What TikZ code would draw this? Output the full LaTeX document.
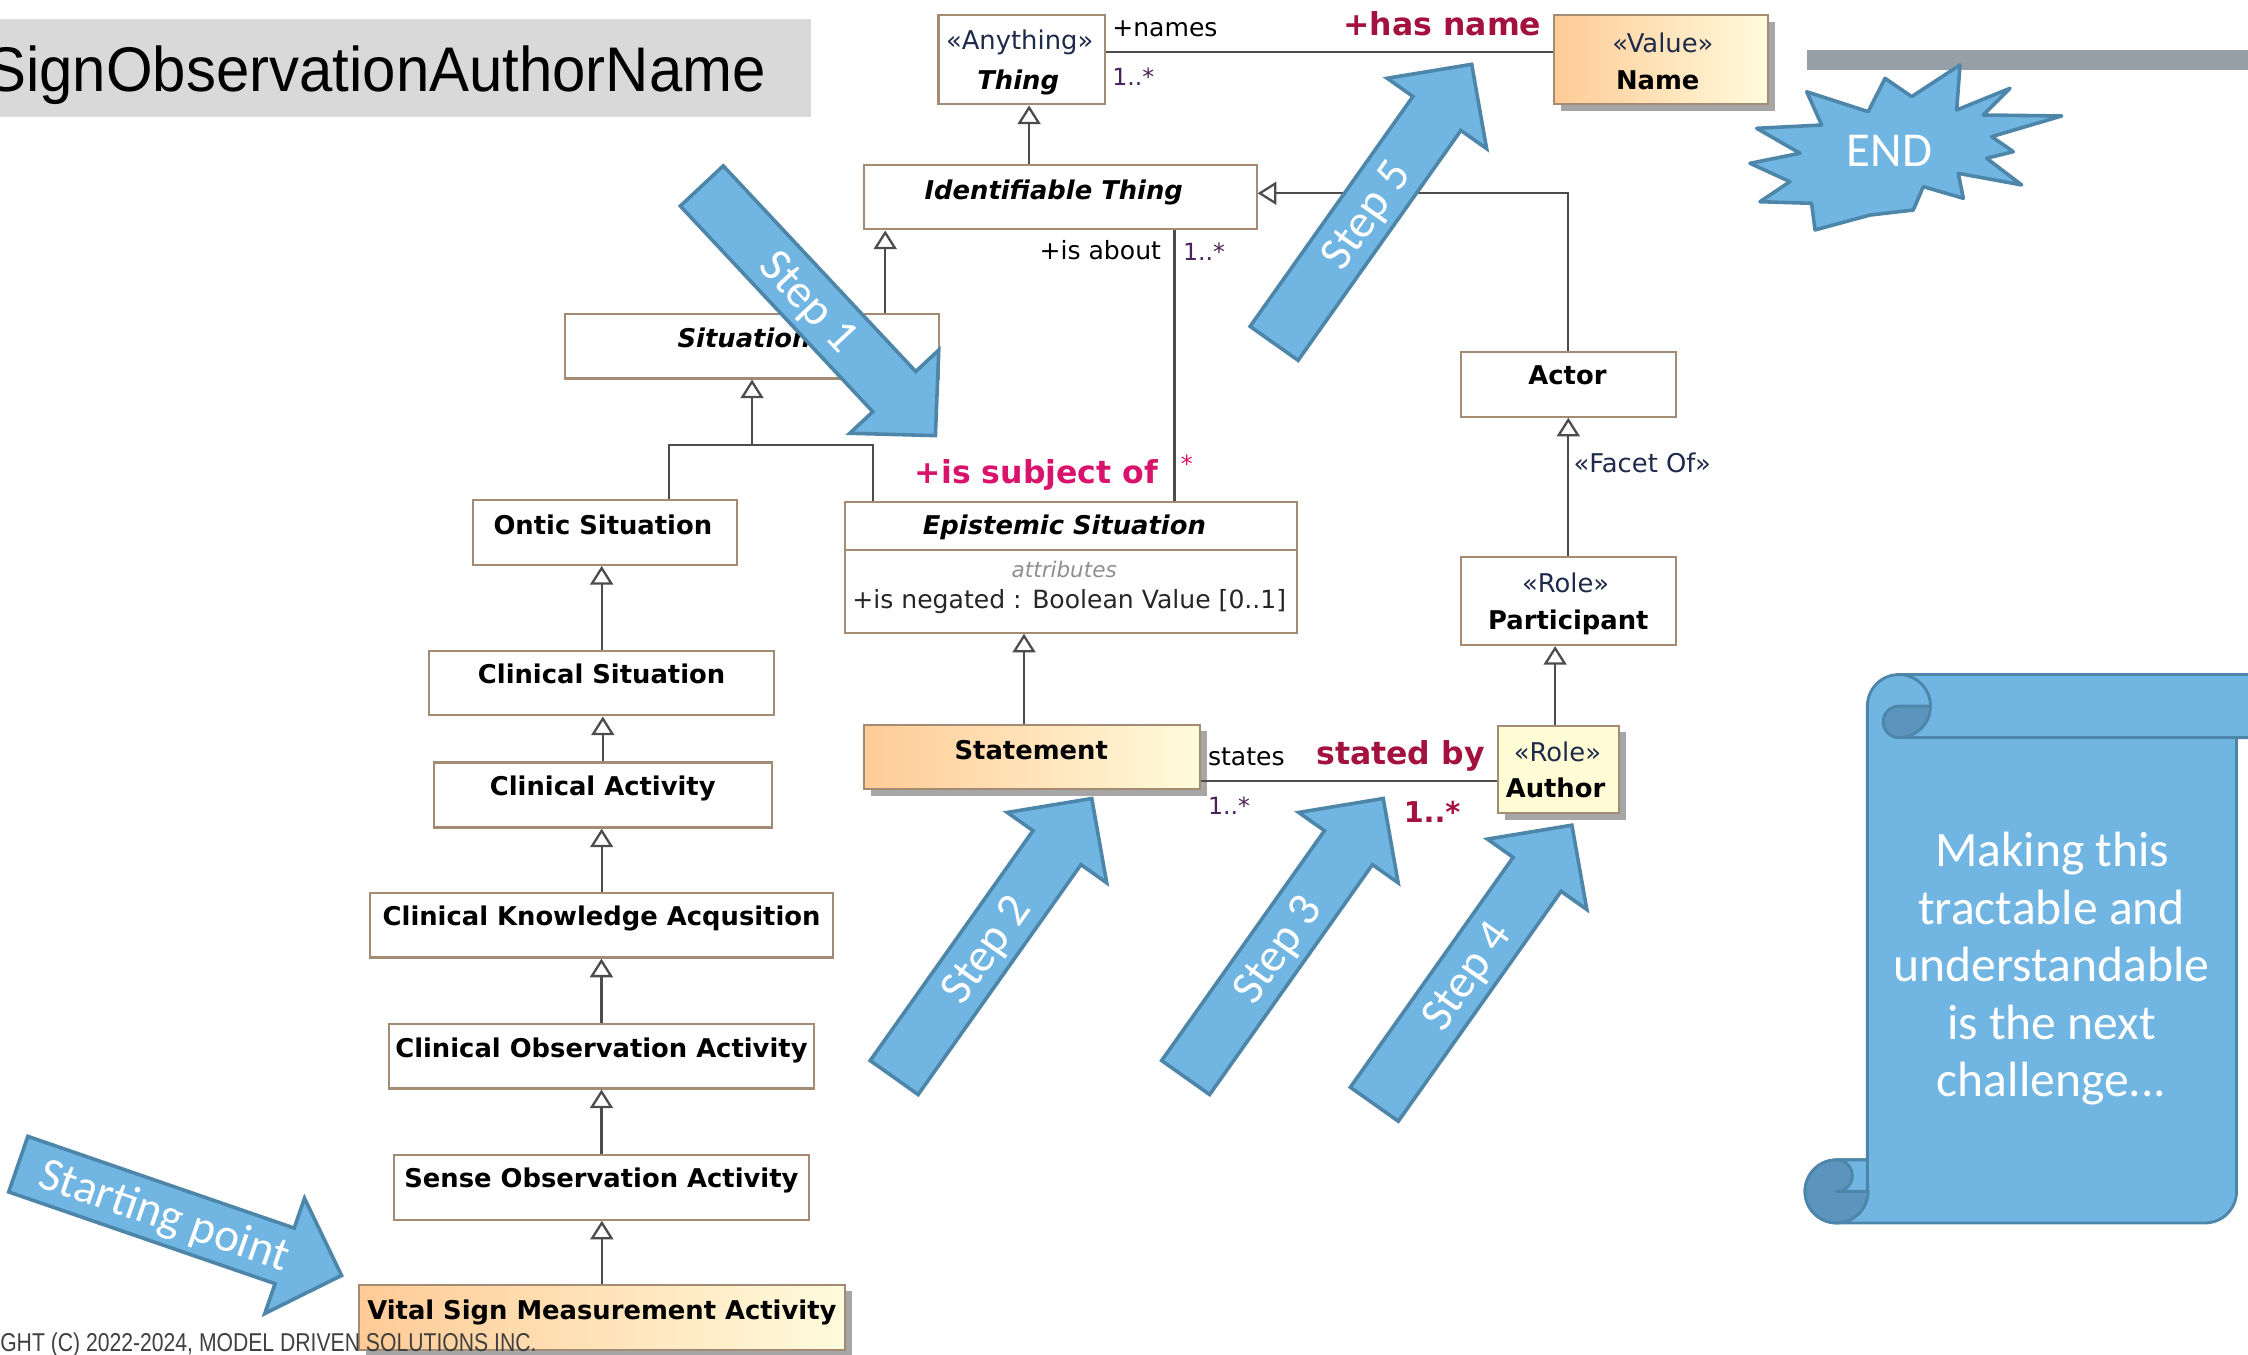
\documentclass[tikz,border=0pt]{standalone}
\usepackage{fontspec}
\setmainfont{DejaVu Sans}
\newfontfamily\calfont{Carlito}
\newfontfamily\headfont[FakeStretch=0.95]{Liberation Sans}
\newfontfamily\footfont[FakeStretch=0.82]{Liberation Sans}
\usetikzlibrary{arrows.meta,shadows}

\definecolor{boxline}{HTML}{A48B74}
\definecolor{linecol}{HTML}{4C4C4C}
\definecolor{valL}{HTML}{FFCB96}
\definecolor{valR}{HTML}{FFFBDC}
\definecolor{roleY}{HTML}{FFFCD6}
\definecolor{shadowgray}{HTML}{A6A6A6}
\definecolor{crimson}{HTML}{A3123F}
\definecolor{pinkred}{HTML}{D9126B}
\definecolor{multcol}{HTML}{4A235A}
\definecolor{stereocol}{HTML}{1E2A4A}
\definecolor{attrgray}{HTML}{8F8F8F}
\definecolor{calloutfill}{HTML}{71B5E2}
\definecolor{calloutdark}{HTML}{5B94BC}
\definecolor{calloutline}{HTML}{4E86AA}
\definecolor{titlegray}{HTML}{D9D9D9}
\definecolor{bargray}{HTML}{969EA8}
\definecolor{footgray}{HTML}{404040}

% block arrow: name, tail centre, angle, label, label position along the shaft
\newcommand\bluearrow[5]{%
  \begin{scope}[shift={#2}, rotate=#3]
    \draw[callout] (0,-20.5) -- (196.5,-20.5) -- (196.5,-42.5) -- (238.5,0)
      -- (196.5,42.5) -- (196.5,20.5) -- (0,20.5) -- cycle;
    \node[steptext, rotate=#3] (#1) at (#5,0) {#4};
  \end{scope}}

\begin{document}
\begin{tikzpicture}[x=1pt, y=-1pt,
  umlbox/.style={draw=boxline, line width=1.5pt, fill=white, inner sep=0pt},
  valbox/.style={draw=boxline, line width=1.5pt, inner sep=0pt, left color=valL, right color=valR,
    drop shadow={shadow xshift=5pt, shadow yshift=-4.5pt, fill=shadowgray, opacity=1}},
  rolebox/.style={draw=boxline, line width=1.5pt, inner sep=0pt, fill=roleY,
    drop shadow={shadow xshift=5pt, shadow yshift=-4.5pt, fill=shadowgray, opacity=1}},
  boxtitle/.style={inner sep=0pt, text height=13pt, text depth=0pt, font=\fontsize{18}{21}\selectfont\bfseries},
  boxtitleit/.style={boxtitle, font=\fontsize{18}{21}\selectfont\bfseries\itshape},
  stereo/.style={inner sep=0pt, text height=13pt, text depth=0pt, text=stereocol, font=\fontsize{18}{21}\selectfont},
  lbl/.style={inner sep=0pt, text height=12.5pt, text depth=0pt, font=\fontsize{17.5}{20}\selectfont},
  mult/.style={inner sep=0pt, text height=11.5pt, text depth=0pt, text=multcol, font=\fontsize{16.5}{19}\selectfont},
  rolename/.style={inner sep=0pt, text height=16pt, text depth=0pt, font=\fontsize{22}{26}\selectfont\bfseries},
  gen/.style={draw=linecol, line width=1.6pt, -{Triangle[open, length=13pt, width=16pt]}},
  assoc/.style={draw=linecol, line width=1.6pt},
  callout/.style={fill=calloutfill, draw=calloutline, line width=2.5pt, line join=miter},
  steptext/.style={text=white, inner sep=0pt, text height=21pt, text depth=0pt, font=\calfont\fontsize{33}{36}\selectfont},
  scrolltext/.style={text=white, inner sep=0pt, anchor=base, font=\calfont\fontsize{34.6}{40}\selectfont}
]
\useasboundingbox (0,0) rectangle (1568,945);
\fill[white] (0,0) rectangle (1568,945);

% heading
\fill[titlegray] (0,13.3) rectangle (566,81.4);
\node[anchor=base east, inner sep=0pt, font=\headfont\fontsize{44}{50}\selectfont] (title) at (534.4,64) {SignObservationAuthorName};
\fill[bargray] (1260.4,35) rectangle (1568,49);

% ---------- classes ----------
\node[umlbox, minimum width=116.1, minimum height=62.3] (thing) at (712.65,41.65) {};
\node[stereo] (thingSt) at (711.2,27.9) {«Anything»};
\node[boxtitleit] (thingNm) at (710.2,55.8) {Thing};

\node[valbox, minimum width=149, minimum height=62.3] (name) at (1158.5,41.65) {};
\node[stereo] (nameSt) at (1159.9,30.2) {«Value»};
\node[boxtitle] (nameNm) at (1156.3,55.8) {Name};

\node[umlbox, minimum width=274, minimum height=45] (it) at (739.5,137.5) {};
\node[boxtitleit] (itNm) at (735,132.5) {Identifiable Thing};

\node[umlbox, minimum width=260.5, minimum height=45] (sit) at (524.55,241.5) {};
\node[boxtitleit] (sitNm) at (519,236) {Situation};

\node[umlbox, minimum width=184, minimum height=45] (ontic) at (422,371.5) {};
\node[boxtitle] (onticNm) at (420.5,366) {Ontic Situation};

\node[umlbox, minimum width=315.1, minimum height=91.3] (epi) at (746.95,395.65) {};
\coordinate (epiSep) at (0,383.6);
\draw[draw=boxline, line width=1.5pt] (epi.west |- epiSep) -- (epi.east |- epiSep);
\node[boxtitleit] (epiNm) at (742.4,366.2) {Epistemic Situation};
\node[inner sep=0pt, text height=11pt, text depth=0pt, text=attrgray, font=\fontsize{15}{17}\selectfont\itshape] (epiAttr) at (742.3,397.6) {attributes};
\node[lbl, text=black!85] (epiNeg) at (745.8,418) {+is negated : Boolean Value [0..1]};

\node[umlbox, minimum width=240.9, minimum height=45.1] (cs) at (419.65,476.45) {};
\node[boxtitle] (csNm) at (419.6,470.4) {Clinical Situation};
\node[umlbox, minimum width=235.5, minimum height=45.4] (ca) at (420.45,554.5) {};
\node[boxtitle] (caNm) at (420.4,548.7) {Clinical Activity};
\node[umlbox, minimum width=323.1, minimum height=45.3] (cka) at (419.65,645.25) {};
\node[boxtitle] (ckaNm) at (419.6,639.1) {Clinical Knowledge Acqusition};
\node[umlbox, minimum width=296.4, minimum height=45] (coa) at (419.5,736.7) {};
\node[boxtitle] (coaNm) at (419.5,731.2) {Clinical Observation Activity};
\node[umlbox, minimum width=289.5, minimum height=45.2] (soa) at (419.55,828.1) {};
\node[boxtitle] (soaNm) at (419.5,821.9) {Sense Observation Activity};
\node[valbox, minimum width=338.6, minimum height=45.3] (vsma) at (419.8,918.95) {};
\node[boxtitle] (vsmaNm) at (419.8,913.7) {Vital Sign Measurement Activity};

\node[valbox, minimum width=234.7, minimum height=44.8] (stmt) at (719.75,528.1) {};
\node[boxtitle] (stmtNm) at (719.3,523) {Statement};

\node[umlbox, minimum width=149.8, minimum height=45.3] (actor) at (1093.9,267.95) {};
\node[boxtitle] (actorNm) at (1093.3,261.6) {Actor};
\node[umlbox, minimum width=149.8, minimum height=61.2] (part) at (1093.9,419.3) {};
\node[stereo] (partSt) at (1092,406.9) {«Role»};
\node[boxtitle] (partNm) at (1093.9,432.4) {Participant};
\node[rolebox, minimum width=84, minimum height=60.9] (author) at (1087,536.85) {};
\node[stereo] (authSt) at (1086.3,524.3) {«Role»};
\node[boxtitle] (authNm) at (1085,549.9) {Author};

% ---------- generalizations ----------
\coordinate (itTop) at ([xshift=-21.7pt]it.north);
\draw[gen] (itTop) -- (itTop |- thing.south);
\coordinate (sitTop) at ([xshift=-38.1pt]sit.north east);
\draw[gen] (sitTop) -- (sitTop |- it.south);
\coordinate (joinY) at (0,310.4);
\coordinate (onticTop) at ([xshift=137.3pt]ontic.north west);
\coordinate (epiTop) at ([xshift=20.4pt]epi.north west);
\draw[assoc] (onticTop) |- (epiTop |- joinY) -- (epiTop);
\draw[gen] (sit.south |- joinY) -- (sit.south);
\draw[gen] (cs.north) -- (cs.north |- ontic.south);
\draw[gen] (ca.north) -- (ca.north |- cs.south);
\draw[gen] (cka.north) -- (cka.north |- ca.south);
\draw[gen] (coa.north) -- (coa.north |- cka.south);
\draw[gen] (soa.north) -- (soa.north |- coa.south);
\draw[gen] (vsma.north) -- (vsma.north |- soa.south);
\coordinate (stmtTop) at ([xshift=-5.5pt]stmt.north);
\draw[gen] (stmtTop) -- (stmtTop |- epi.south);
\draw[gen] (actor.north) |- ([yshift=2.7pt]it.east);
\draw[gen] (part.north) -- (actor.south);
\coordinate (authTop) at ([xshift=-2.3pt]author.north);
\draw[gen] (authTop) -- (authTop |- part.south);
\node[stereo, anchor=west] (facet) at (1097.4,323.2) {«Facet Of»};

% ---------- associations ----------
\coordinate (thingR) at ([yshift=5.15pt]thing.east);
\draw[assoc] (thingR) -- (thingR -| name.west);
\node[lbl, anchor=west] (namesLbl) at (775.6,19.5) {+names};
\node[mult, anchor=west] (namesMult) at (775.6,54) {1..*};
\node[rolename, text=crimson] (hasName) at (1006,16.5) {+has name};

\coordinate (itBot) at ([xshift=-58pt]it.south east);
\draw[assoc] (itBot) -- (itBot |- epi.north);
\node[lbl, anchor=east] (aboutLbl) at (810,175) {+is about};
\node[mult, anchor=west] (aboutMult) at (825,176) {1..*};
\node[rolename, text=pinkred] (subjLbl) at (723,329) {+is subject of};
\node[mult, text=pinkred, anchor=west] (subjMult) at (823.5,323.5) {*};

\coordinate (stmtR) at ([yshift=-16.6pt]stmt.east);
\draw[assoc] (stmtR) -- (stmtR -| author.west);
\node[lbl, anchor=west] (statesLbl) at (842.4,527.5) {states};
\node[mult, anchor=west] (statesMult) at (842.4,562.7) {1..*};
\node[rolename, text=crimson] (statedBy) at (976.8,525) {stated by};
\node[rolename, text=crimson, font=\fontsize{20}{24}\selectfont\bfseries] (statedMult) at (998.9,565.5) {1..*};

% ---------- step arrows ----------
\bluearrow{startpt}{(12.75,812)}{-19}{Starting point}{108}
\bluearrow{step1}{(489.5,129.7)}{-46.9}{Step 1}{110}
\bluearrow{step2}{(623.7,751.6)}{54.7}{Step 2}{110}
\bluearrow{step3}{(827,751.6)}{54.7}{Step 3}{110}
\bluearrow{step4}{(958.6,770.2)}{54.7}{Step 4}{110}
\bluearrow{step5}{(888.7,239.5)}{54.7}{Step 5}{110}

% ---------- end burst ----------
\draw[callout, line join=round] (1260.2,64.0) -- (1303.1,77.9) -- (1314.8,54.6) -- (1333.4,67.4)
  -- (1367.1,45.3) -- (1364.8,76.7) -- (1402.0,61.6) -- (1383.3,80.2) -- (1438.0,80.9)
  -- (1389.2,95.3) -- (1404.3,105.8) -- (1385.7,110.4) -- (1410.1,129.0) -- (1365.9,120.9)
  -- (1369.4,138.3) -- (1341.5,130.2) -- (1334.5,146.5) -- (1304.3,150.0) -- (1266.0,160.4)
  -- (1263.6,141.8) -- (1227.6,140.7) -- (1248.5,126.7) -- (1220.6,113.9) -- (1255.5,106.9)
  -- (1225.3,89.5) -- (1270.6,87.2) -- cycle;
\node[steptext, font=\calfont\fontsize{34}{38}\selectfont] (endLbl) at (1318,105.8) {END};

% ---------- scroll ----------
\begin{scope}[line width=2pt, draw=calloutline, line join=round]
  \path[fill=calloutfill, draw=calloutline] (1324.5,470.5) -- (1600,470.5) -- (1600,514.5)
    -- (1560,514.5) -- (1560,831) arc[start angle=0, end angle=90, radius=22]
    -- (1281,853) arc[start angle=90, end angle=270, radius=22]
    -- (1302.5,809) -- (1302.5,492.5) arc[start angle=180, end angle=270, radius=22] -- cycle;
  \draw[fill=calloutdark] (1281,831) circle[radius=22];
  \draw[fill=calloutfill] (1281,809) -- (1302.5,809) -- (1302.5,831) -- (1281,831)
    arc[start angle=90, end angle=-90, radius=11] -- cycle;
  \draw[fill=calloutdark] (1324.5,492.5) -- (1346.5,492.5) arc[start angle=0, end angle=90, radius=22]
    arc[start angle=90, end angle=270, radius=11] -- cycle;
  \draw (1324.5,470.5) arc[start angle=-90, end angle=0, radius=22];
  \draw (1324.5,514.5) -- (1600,514.5);
\end{scope}
\node[scrolltext] (note1) at (1431.5,604.3) {Making this};
\node[scrolltext] (note2) at (1431,644.5) {tractable and};
\node[scrolltext] (note3) at (1431,684.7) {understandable};
\node[scrolltext] (note4) at (1431,724.9) {is the next};
\node[scrolltext] (note5) at (1431,765.1) {challenge...};

% footer
\node[anchor=base west, inner sep=0pt, text=footgray, font=\footfont\fontsize{18}{20}\selectfont] (copyright) at (0,943) {GHT (C) 2022-2024, MODEL DRIVEN SOLUTIONS INC.};
\end{tikzpicture}
\end{document}
